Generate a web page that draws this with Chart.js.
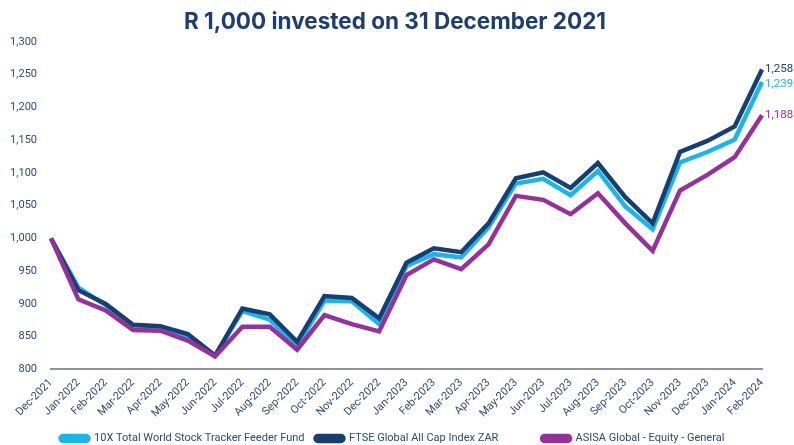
<!DOCTYPE html>
<html>
<head>
<meta charset="utf-8">
<script src="https://cdn.jsdelivr.net/npm/chart.js@4.4.1/dist/chart.umd.min.js"></script>
<style>
  html, body { margin: 0; padding: 0; background: #fff; }
  #wrap { width: 794px; height: 445px; position: relative; }
</style>
</head>
<body>
<div id="wrap"><canvas id="lineChart"></canvas></div>
<script>
// Datos
const months = ['Dec-2021', 'Jan-2022', 'Feb-2022', 'Mar-2022', 'Apr-2022', 'May-2022', 'Jun-2022',
  'Jul-2022', 'Aug-2022', 'Sep-2022', 'Oct-2022', 'Nov-2022', 'Dec-2022', 'Jan-2023', 'Feb-2023',
  'Mar-2023', 'Apr-2023', 'May-2023', 'Jun-2023', 'Jul-2023', 'Aug-2023', 'Sep-2023', 'Oct-2023',
  'Nov-2023', 'Dec-2023', 'Jan-2024', 'Feb-2024'];

const tenX = [1000, 925, 898, 866, 864, 850, 821, 889, 876, 835, 905, 904, 869, 958, 976,
  971, 1017, 1084, 1091, 1066, 1103, 1049, 1014, 1116, 1132, 1151, 1239];
const ftse = [1000, 921, 900, 868, 866, 854, 821, 893, 884, 842, 912, 909, 878, 963, 985,
  979, 1023, 1092, 1101, 1077, 1115, 1063, 1023, 1132, 1149, 1171, 1258];
const asisa = [1000, 907, 890, 860, 859, 844, 820, 865, 865, 830, 883, 869, 858, 944, 968,
  953, 991, 1065, 1059, 1037, 1069, 1023, 981, 1073, 1097, 1124, 1188];

const seriesNames = ['10X Total World Stock Tracker Feeder Fund', 'FTSE Global All Cap Index ZAR', 'ASISA Global - Equity - General'];
const colors = ['#1CB4EC', '#173F6F', '#96309A'];
const textColor = '#2E4A72';
const legendGaps = [18, 12, 0]; // espacios tras cada texto de la leyenda

// Etiquetas al final de cada línea + ajuste de título y leyenda
const endLabels = {
  id: 'endLabels',
  afterLayout(chart) {
    // centrar leyenda y título como en el original
    chart.legend.left += 31;
    chart.legend.right += 31;
    chart.titleBlock.left += 9;
    chart.titleBlock.right += 9;
  },
  afterDatasetsDraw(chart) {
    const ctx = chart.ctx;
    ctx.save();
    ctx.font = '11.5px Roboto';
    ctx.textAlign = 'left';
    ctx.textBaseline = 'middle';
    chart.data.datasets.forEach((ds, i) => {
      const meta = chart.getDatasetMeta(i);
      const pt = meta.data[meta.data.length - 1];
      const val = ds.data[ds.data.length - 1];
      ctx.fillStyle = ds.borderColor;
      ctx.fillText(val.toLocaleString('en-US'), pt.x + 3, pt.y + (i === 0 ? 2 : 0));
    });
    ctx.restore();
  }
};

const ctx = document.getElementById('lineChart').getContext('2d');
const lineChart = new Chart(ctx, {
  type: 'line',
  data: {
    labels: months,
    datasets: [
      { label: seriesNames[0], data: tenX, borderColor: colors[0], backgroundColor: colors[0], order: 2 },
      { label: seriesNames[1], data: ftse, borderColor: colors[1], backgroundColor: colors[1], order: 1 },
      { label: seriesNames[2], data: asisa, borderColor: colors[2], backgroundColor: colors[2], order: 0 }
    ]
  },
  options: {
    responsive: true,
    maintainAspectRatio: false,
    animation: false,
    elements: {
      line: { borderWidth: 4.5, tension: 0, borderJoinStyle: 'miter', borderCapStyle: 'butt' },
      point: { radius: 0 }
    },
    layout: { padding: { left: 10, right: 32, top: 0, bottom: -9 } },
    scales: {
      x: {
        grid: { display: false, drawTicks: true, tickLength: 5, tickColor: '#8E939C' },
        border: { display: true, color: '#8E939C', width: 2 },
        afterFit: (scale) => {
          scale.paddingLeft = 0;
          scale.paddingRight = 0;
        },
        ticks: {
          autoSkip: false,
          maxRotation: 45,
          minRotation: 45,
          padding: 2,
          color: textColor,
          font: { family: 'Roboto', size: 11 }
        }
      },
      y: {
        min: 800,
        max: 1300,
        grid: { display: false, drawTicks: false },
        border: { display: false },
        afterFit: (scale) => {
          scale.width = 41;
        },
        ticks: {
          stepSize: 50,
          padding: 14,
          color: textColor,
          font: { family: 'Roboto', size: 11 },
          callback: v => v.toLocaleString('en-US')
        }
      }
    },
    plugins: {
      title: {
        display: true,
        text: 'R 1,000 invested on 31 December 2021',
        color: '#1B3F6E',
        font: { family: 'Inter', size: 22.5, weight: 'bold' },
        padding: { top: 9, bottom: 6 }
      },
      legend: {
        position: 'bottom',
        labels: {
          sort: (a, b) => a.datasetIndex - b.datasetIndex,
          generateLabels: (chart) => {
            const items = Chart.defaults.plugins.legend.labels.generateLabels(chart);
            items.forEach((it, i) => {
              it.text = it.text + '\u00A0'.repeat(legendGaps[i]);
            });
            return items;
          },
          boxWidth: 28,
          boxHeight: 5,
          useBorderRadius: true,
          borderRadius: 2.5,
          padding: 11,
          color: textColor,
          font: { family: 'Roboto', size: 11 }
        }
      },
      tooltip: { enabled: false }
    }
  },
  plugins: [endLabels]
});
</script>
</body>
</html>
